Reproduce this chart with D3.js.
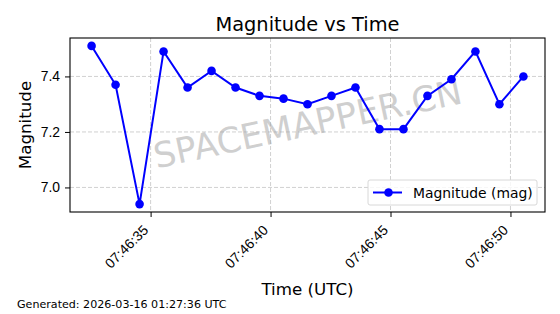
<!DOCTYPE html>
<html>
<head>
<meta charset="utf-8">
<script src="https://cdn.jsdelivr.net/npm/d3@7"></script>
<style>
  body { margin: 0; background: #fff; }
  svg { font-family: "DejaVu Sans", sans-serif; display: block; }
</style>
</head>
<body>
<svg id="chart" width="560" height="314"></svg>
<script>
// seconds after 07:46:00 UTC
var times = [32.54, 33.54, 34.54, 35.54, 36.54, 37.54, 38.54, 39.54, 40.54, 41.54,
             42.54, 43.54, 44.54, 45.54, 46.54, 47.54, 48.54, 49.54, 50.54];
var magnitudes = [7.51, 7.37, 6.94, 7.49, 7.36, 7.42, 7.36, 7.33, 7.32, 7.30,
                  7.33, 7.36, 7.21, 7.21, 7.33, 7.39, 7.49, 7.30, 7.40];
var xTicks = [35, 40, 45, 50];
var yTicks = [7.0, 7.2, 7.4];

var svg = d3.select('#chart');
var margin = {left: 70, right: 15, top: 38, bottom: 102},
    W = 560, H = 314,
    plotW = W - margin.left - margin.right,
    plotH = H - margin.top - margin.bottom;

var base = new Date(Date.UTC(2026, 2, 15, 7, 46, 0));
var toDate = function(s) { return new Date(base.getTime() + s * 1000); };
var data = times.map(function(t, i) { return {t: toDate(t), v: magnitudes[i]}; });

// 5% padding on both axes
var tExt = d3.extent(times), tPad = (tExt[1] - tExt[0]) * 0.05;
var vExt = d3.extent(magnitudes), vPad = (vExt[1] - vExt[0]) * 0.05;

var x = d3.scaleUtc()
    .domain([toDate(tExt[0] - tPad), toDate(tExt[1] + tPad)])
    .range([margin.left, margin.left + plotW]);
var y = d3.scaleLinear()
    .domain([vExt[0] - vPad, vExt[1] + vPad])
    .range([margin.top + plotH, margin.top]);

var fmt = d3.utcFormat('%H:%M:%S');

// grid
var g = svg.append('g');
g.selectAll('.gx').data(xTicks).enter().append('line')
    .attr('x1', function(d) { return x(toDate(d)); })
    .attr('x2', function(d) { return x(toDate(d)); })
    .attr('y1', margin.top).attr('y2', margin.top + plotH)
    .attr('stroke', '#cccccc').attr('stroke-width', 0.9).attr('stroke-dasharray', '4,2');
g.selectAll('.gy').data(yTicks).enter().append('line')
    .attr('y1', function(d) { return y(d); })
    .attr('y2', function(d) { return y(d); })
    .attr('x1', margin.left).attr('x2', margin.left + plotW)
    .attr('stroke', '#cccccc').attr('stroke-width', 0.9).attr('stroke-dasharray', '4,2');

// watermark
svg.append('text')
    .attr('transform', 'translate(308,126) rotate(-12)')
    .attr('text-anchor', 'middle')
    .attr('dominant-baseline', 'middle')
    .attr('font-size', 35)
    .attr('fill', '#a0a0a0')
    .attr('fill-opacity', 0.5)
    .text('SPACEMAPPER.CN');

// axes
var xAxis = svg.append('g')
    .attr('transform', 'translate(0,' + (margin.top + plotH) + ')')
    .call(d3.axisBottom(x).tickValues(xTicks.map(toDate)).tickFormat(fmt)
        .tickSizeOuter(0).tickSize(5));
xAxis.selectAll('text')
    .attr('font-size', 13.9)
    .attr('fill', '#000')
    .style('text-anchor', 'end')
    .attr('x', 0).attr('y', 0).attr('dy', 0)
    .attr('transform', 'translate(-2,19) rotate(-45)');

var yAxis = svg.append('g')
    .attr('transform', 'translate(' + margin.left + ',0)')
    .call(d3.axisLeft(y).tickValues(yTicks).tickFormat(d3.format('.1f'))
        .tickSizeOuter(0).tickSize(5).tickPadding(5));
yAxis.selectAll('text').attr('font-size', 13.9).attr('fill', '#000');
svg.selectAll('.domain').remove();
svg.selectAll('.tick line').attr('stroke', '#000').attr('stroke-width', 1);

svg.append('rect')
    .attr('x', margin.left).attr('y', margin.top)
    .attr('width', plotW).attr('height', plotH)
    .attr('fill', 'none').attr('stroke', '#000').attr('stroke-width', 1.1);

// series
var line = d3.line().x(function(d) { return x(d.t); }).y(function(d) { return y(d.v); });
svg.append('path').datum(data)
    .attr('d', line).attr('fill', 'none')
    .attr('stroke', '#0000ff').attr('stroke-width', 2);
svg.selectAll('.pt').data(data).enter().append('circle')
    .attr('cx', function(d) { return x(d.t); })
    .attr('cy', function(d) { return y(d.v); })
    .attr('r', 4.3).attr('fill', '#0000ff');

// legend
var lg = svg.append('g').attr('transform', 'translate(368,180)');
lg.append('rect').attr('width', 169).attr('height', 25).attr('rx', 2)
    .attr('fill', '#fff').attr('fill-opacity', 0.8).attr('stroke', '#d8d8d8');
lg.append('line').attr('x1', 5).attr('x2', 34).attr('y1', 12.5).attr('y2', 12.5)
    .attr('stroke', '#0000ff').attr('stroke-width', 2);
lg.append('circle').attr('cx', 20.5).attr('cy', 12.5).attr('r', 4.3).attr('fill', '#0000ff');
lg.append('text').attr('x', 45).attr('y', 17.5).attr('font-size', 13.9).text('Magnitude (mag)');

// titles
svg.append('text').attr('x', margin.left + plotW / 2).attr('y', 31)
    .attr('text-anchor', 'middle').attr('font-size', 19.4).text('Magnitude vs Time');
svg.append('text').attr('x', margin.left + plotW / 2).attr('y', 295)
    .attr('text-anchor', 'middle').attr('font-size', 16.7).text('Time (UTC)');
svg.append('text').attr('transform', 'translate(31,' + (margin.top + plotH / 2) + ') rotate(-90)')
    .attr('text-anchor', 'middle').attr('font-size', 16.7).text('Magnitude');
svg.append('text').attr('x', 17).attr('y', 308).attr('font-size', 11.1)
    .text('Generated: 2026-03-16 01:27:36 UTC');
</script>
</body>
</html>
